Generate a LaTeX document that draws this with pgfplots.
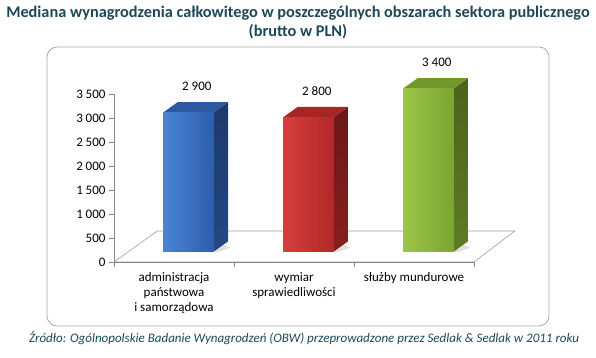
\documentclass[border=0pt]{standalone}
\usepackage{fontspec}
\setmainfont{Carlito}
\usepackage{pgfplots}
\pgfplotsset{compat=1.18}
\definecolor{titlec}{RGB}{28,72,90}
\definecolor{axisgray}{RGB}{134,134,134}
\definecolor{floorgray}{RGB}{160,160,160}
\definecolor{framegray}{RGB}{170,170,170}
\definecolor{bFL}{RGB}{74,132,214}
\definecolor{bFR}{RGB}{44,94,172}
\definecolor{bS}{RGB}{36,72,132}
\definecolor{bT}{RGB}{46,88,162}
\definecolor{rFL}{RGB}{214,62,62}
\definecolor{rFR}{RGB}{178,40,40}
\definecolor{rS}{RGB}{136,30,30}
\definecolor{rT}{RGB}{166,38,38}
\definecolor{gFL}{RGB}{154,198,72}
\definecolor{gFR}{RGB}{124,164,50}
\definecolor{gS}{RGB}{94,124,36}
\definecolor{gT}{RGB}{114,152,44}
\begin{document}
\begin{tikzpicture}[x=1pt,y=1pt]
\path[use as bounding box] (0,0) rectangle (596,358);
\node[font=\bfseries\fontsize{16.3}{19}\selectfont, text=titlec, inner sep=0pt] at (298,345) {Mediana wynagrodzenia całkowitego w poszczególnych obszarach sektora publicznego};
\node[font=\bfseries\fontsize{16.3}{19}\selectfont, text=titlec, inner sep=0pt] at (298,326) {(brutto w PLN)};
\draw[framegray, line width=0.8pt, rounded corners=10pt] (47,32) rectangle (549,311);
\node[font=\itshape\fontsize{13}{15}\selectfont, text=titlec, inner sep=0pt] at (304,20) {Źródło: Ogólnopolskie Badanie Wynagrodzeń (OBW) przeprowadzone przez Sedlak \& Sedlak w 2011 roku};
\begin{axis}[
  at={(114pt,96pt)}, anchor=south west,
  scale only axis, width=360pt, height=168pt,
  xmin=-0.5, xmax=2.5, ymin=0, ymax=3500,
  clip=false,
  axis lines*=left,
  axis line style={draw=axisgray, line width=0.6pt},
  tick align=outside,
  major tick length=5pt,
  tick style={draw=axisgray, line width=0.6pt},
  ytick={0,500,...,3500},
  scaled y ticks=false,
  yticklabel style={font=\fontsize{13}{13}\selectfont, /pgf/number format/assume math mode=true, /pgf/number format/1000 sep={\hspace{0.22em}}},
  xtick={-0.5,0.5,1.5,2.5},
  xticklabels={},
  extra x ticks={0,1,2},
  extra x tick labels={administracja\\państwowa\\i samorządowa, wymiar\\sprawiedliwości, służby mundurowe},
  extra x tick style={grid=none, major tick length=0pt, tick style={draw=none}},
  x tick label style={font=\fontsize{13}{15}\selectfont, align=center, yshift=-7pt},
]
% floor
\addplot[draw=floorgray, line width=0.6pt, fill=white] coordinates {(-0.5,0) (2.5,0) (2.84,646) (-0.14,646)} -- cycle;
\addplot[draw=axisgray, line width=0.6pt] coordinates {(-0.5,0) (2.5,0)};
% shadows
\addplot[draw=none, fill=black!12] coordinates {(-0.07,205) (0.36,205) (0.47,300) (0.40,380) (0.33,300)} -- cycle;
\addplot[draw=none, fill=black!12] coordinates {(0.93,205) (1.36,205) (1.47,300) (1.40,380) (1.33,300)} -- cycle;
\addplot[draw=none, fill=black!12] coordinates {(1.93,205) (2.36,205) (2.47,300) (2.40,380) (2.33,300)} -- cycle;
% blue bar: 2900
\addplot[draw=none, top color=bS!80!black, bottom color=bS] coordinates {(0.33,215) (0.45,430) (0.45,3330) (0.33,3115)} -- cycle;
\addplot[draw=none, fill=bT] coordinates {(-0.09,3115) (0.33,3115) (0.45,3330) (0.03,3330)} -- cycle;
\addplot[draw=none, left color=bFL, right color=bFR] coordinates {(-0.09,215) (0.33,215) (0.33,3115) (-0.09,3115)} -- cycle;
% red bar: 2800
\addplot[draw=none, top color=rS!80!black, bottom color=rS] coordinates {(1.33,215) (1.45,430) (1.45,3230) (1.33,3015)} -- cycle;
\addplot[draw=none, fill=rT] coordinates {(0.91,3015) (1.33,3015) (1.45,3230) (1.03,3230)} -- cycle;
\addplot[draw=none, left color=rFL, right color=rFR] coordinates {(0.91,215) (1.33,215) (1.33,3015) (0.91,3015)} -- cycle;
% green bar: 3400
\addplot[draw=none, top color=gS!80!black, bottom color=gS] coordinates {(2.33,215) (2.45,430) (2.45,3830) (2.33,3615)} -- cycle;
\addplot[draw=none, fill=gT] coordinates {(1.91,3615) (2.33,3615) (2.45,3830) (2.03,3830)} -- cycle;
\addplot[draw=none, left color=gFL, right color=gFR] coordinates {(1.91,215) (2.33,215) (2.33,3615) (1.91,3615)} -- cycle;
% value labels
\addplot[draw=none, mark=none, nodes near coords, point meta=explicit symbolic,
  nodes near coords style={font=\fontsize{13}{13}\selectfont, anchor=south, yshift=8pt, text=black}]
  coordinates {(0.19,3330) [2 900] (1.19,3230) [2 800] (2.19,3830) [3 400]};
\end{axis}
\end{tikzpicture}
\end{document}
